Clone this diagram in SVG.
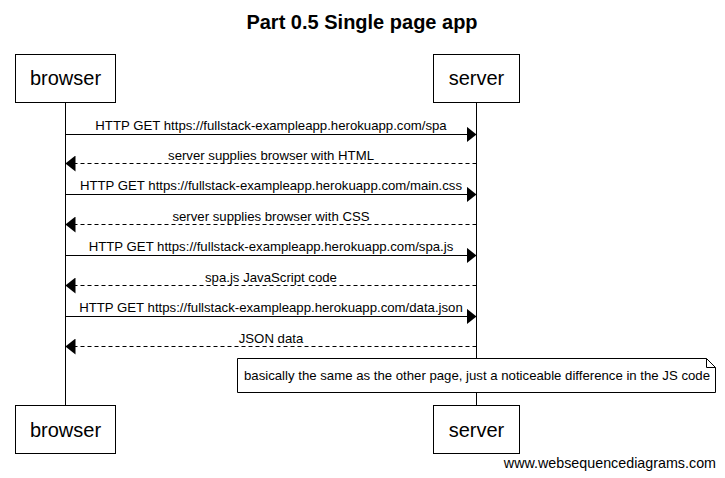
<svg xmlns="http://www.w3.org/2000/svg" width="725" height="478" viewBox="0 0 725 478">
<defs>
<style>
.box{fill:#fff;stroke:#000;stroke-width:1}
.life{stroke:#000;stroke-width:1}
.msg{stroke:#000;stroke-width:1;fill:none}
.dash{stroke-dasharray:4,3}
.pt{font-family:"Liberation Sans",Arial,sans-serif;font-size:20px;text-anchor:middle;fill:#000}
.lbl{font-family:"Liberation Sans",Arial,sans-serif;font-size:13.2px;text-anchor:middle;fill:#000}
</style>
<marker id="ah" markerWidth="10" markerHeight="16" refX="10" refY="8" orient="auto" markerUnits="userSpaceOnUse">
<path d="M0,0 L10,8 L0,16 Z" fill="#000"/>
</marker>
</defs>
<rect width="725" height="478" fill="#fff"/>
<text x="362" y="29" font-family="'Liberation Sans',Arial,sans-serif" font-size="20" font-weight="bold" text-anchor="middle">Part 0.5 Single page app</text>
<g id="lifelines">
<line class="life" x1="65.5" y1="102" x2="65.5" y2="405"/>
<line class="life" x1="476.5" y1="102" x2="476.5" y2="405"/>
</g>
<g id="connectors">
<line class="msg" x1="65.5" y1="134.5" x2="476.5" y2="134.5" marker-end="url(#ah)"/>
<text class="lbl" x="271" y="130">HTTP GET https://fullstack-exampleapp.herokuapp.com/spa</text>
<line class="msg dash" x1="476.5" y1="163.5" x2="65.5" y2="163.5" marker-end="url(#ah)"/>
<text class="lbl" x="271" y="160">server supplies browser with HTML</text>
<line class="msg" x1="65.5" y1="194.5" x2="476.5" y2="194.5" marker-end="url(#ah)"/>
<text class="lbl" x="271" y="190">HTTP GET https://fullstack-exampleapp.herokuapp.com/main.css</text>
<line class="msg dash" x1="476.5" y1="224.5" x2="65.5" y2="224.5" marker-end="url(#ah)"/>
<text class="lbl" x="271" y="221">server supplies browser with CSS</text>
<line class="msg" x1="65.5" y1="255.5" x2="476.5" y2="255.5" marker-end="url(#ah)"/>
<text class="lbl" x="271" y="251">HTTP GET https://fullstack-exampleapp.herokuapp.com/spa.js</text>
<line class="msg dash" x1="476.5" y1="285.5" x2="65.5" y2="285.5" marker-end="url(#ah)"/>
<text class="lbl" x="271" y="282">spa.js JavaScript code</text>
<line class="msg" x1="65.5" y1="316.5" x2="476.5" y2="316.5" marker-end="url(#ah)"/>
<text class="lbl" x="271" y="312">HTTP GET https://fullstack-exampleapp.herokuapp.com/data.json</text>
<line class="msg dash" x1="476.5" y1="346.5" x2="65.5" y2="346.5" marker-end="url(#ah)"/>
<text class="lbl" x="271" y="343">JSON data</text>
</g>
<g id="note">
<path d="M237.5,358.5 H706.5 L715.5,367.5 V392.5 H237.5 Z" fill="#fff" stroke="#000"/>
<path d="M706.5,358.5 V367.5 H715.5" fill="none" stroke="#000"/>
<text class="lbl" x="477" y="380">basically the same as the other page, just a noticeable difference in the JS code</text>
</g>
<g id="browser-top"><rect class="box" x="15.5" y="54.5" width="100" height="48"/><text class="pt" x="65.5" y="85">browser</text></g>
<g id="server-top"><rect class="box" x="433.5" y="54.5" width="86" height="48"/><text class="pt" x="476.5" y="85">server</text></g>
<g id="browser-bottom"><rect class="box" x="15.5" y="405.5" width="100" height="48"/><text class="pt" x="65.5" y="437">browser</text></g>
<g id="server-bottom"><rect class="box" x="433.5" y="405.5" width="86" height="48"/><text class="pt" x="476.5" y="437">server</text></g>
<text x="716" y="468" font-family="'Liberation Sans',Arial,sans-serif" font-size="14.3" text-anchor="end">www.websequencediagrams.com</text>
</svg>
